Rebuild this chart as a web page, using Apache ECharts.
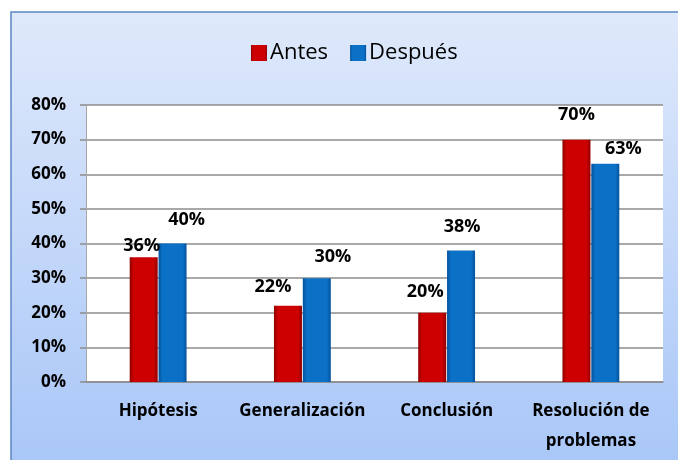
<!DOCTYPE html>
<html>
<head>
<meta charset="utf-8">
<script src="https://cdn.jsdelivr.net/npm/echarts@6/dist/echarts.min.js"></script>
<style>html,body{margin:0;padding:0;background:#fff}#c{width:678px;height:460px}</style>
</head>
<body>
<div id="c"></div>
<script>
const categories = ['Hipótesis', 'Generalización', 'Conclusión', 'Resolución de\nproblemas'];
const antes = [0.36, 0.22, 0.20, 0.70];
const despues = [0.40, 0.30, 0.38, 0.63];
const seriesNames = ['Antes', 'Después'];
const yTicks = { min: 0, max: 0.8, interval: 0.1 };

// label nudges (presentation only)
const antesLabelShift = [[-2, 0], [-15, -8], [-7, -10], [0, -14]];
const despuesLabelShift = [[14, -13], [16, -10], [1, -13], [18, -4]];

const FONT = '"Open Sans", "Noto Sans", sans-serif';
const pct = v => Math.round(v * 100) + '%';

function grad(edge, mid) {
  return new echarts.graphic.LinearGradient(0, 0, 1, 0, [
    { offset: 0, color: edge }, { offset: 0.14, color: mid },
    { offset: 0.86, color: mid }, { offset: 1, color: edge }
  ]);
}

function makeData(vals, shifts) {
  return vals.map((v, i) => ({ value: v, label: { offset: shifts[i] } }));
}

const chart = echarts.init(document.getElementById('c'), null, { renderer: 'canvas' });
chart.setOption({
  animation: false,
  backgroundColor: '#ffffff',
  graphic: [{
    type: 'rect', z: -10, silent: true,
    shape: { x: 11, y: 12, width: 700, height: 500 },
    style: {
      fill: new echarts.graphic.LinearGradient(0, 0, 0, 1, [
        { offset: 0, color: '#dfe9fb' }, { offset: 1, color: '#a3c3f7' }
      ]),
      stroke: '#5b86c4', lineWidth: 1.5
    }
  }],
  legend: {
    data: seriesNames,
    top: 37, left: 246,
    icon: 'rect', itemWidth: 16, itemHeight: 16, itemGap: 22,
    textStyle: { fontFamily: FONT, fontSize: 22, color: '#000', padding: [0, 0, 0, -2] }
  },
  grid: { left: 86, right: 15, top: 105, bottom: 78, show: true, backgroundColor: '#ffffff', borderWidth: 0 },
  xAxis: {
    type: 'category', data: categories,
    axisLine: { lineStyle: { color: '#8c8c8c', width: 1.5 } },
    axisTick: { show: false },
    axisLabel: { fontFamily: FONT, fontSize: 17, fontWeight: 'bold', color: '#000', margin: 14, lineHeight: 30, interval: 0 }
  },
  yAxis: {
    type: 'value', min: yTicks.min, max: yTicks.max, interval: yTicks.interval,
    axisLine: { show: true, lineStyle: { color: '#a6a6a6', width: 1 } },
    axisTick: { show: true, length: 6, lineStyle: { color: '#8c8c8c', width: 1.5 } },
    splitLine: { lineStyle: { color: '#8c8c8c', width: 1.5 } },
    axisLabel: { formatter: pct, fontFamily: FONT, fontSize: 17, fontWeight: 'bold', color: '#000', margin: 20 }
  },
  series: [
    {
      name: seriesNames[0], type: 'bar', data: makeData(antes, antesLabelShift),
      barWidth: 28, barGap: '3%',
      itemStyle: { color: grad('#8e0000', '#cc0000') },
      label: { show: true, position: 'top', distance: 2, formatter: p => pct(p.value), fontFamily: FONT, fontSize: 18, fontWeight: 'bold', color: '#000' }
    },
    {
      name: seriesNames[1], type: 'bar', data: makeData(despues, despuesLabelShift),
      barWidth: 28,
      itemStyle: { color: grad('#04519c', '#0a71c6') },
      label: { show: true, position: 'top', distance: 2, formatter: p => pct(p.value), fontFamily: FONT, fontSize: 18, fontWeight: 'bold', color: '#000' }
    }
  ]
});
</script>
</body>
</html>
